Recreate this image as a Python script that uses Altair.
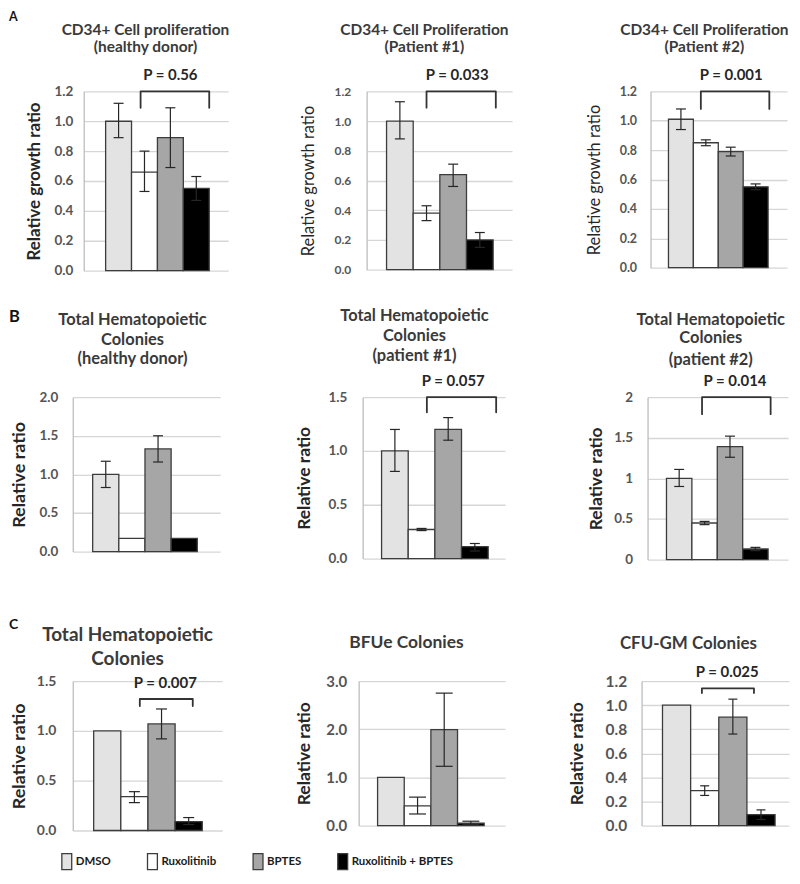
import altair as alt
import pandas as pd

FONT = "Lato"

treatments = ["DMSO", "Ruxolitinib", "BPTES", "Ruxolitinib + BPTES"]
fill_colors = ["#e3e3e3", "#ffffff", "#a6a6a6", "#000000"]

# ---- values (mean, lower / upper error bar ends) ----
a1_mean = [1.00, 0.66, 0.89, 0.55]
a1_lo = [0.89, 0.53, 0.69, 0.47]
a1_hi = [1.12, 0.80, 1.09, 0.63]

a2_mean = [1.00, 0.38, 0.64, 0.20]
a2_lo = [0.88, 0.33, 0.56, 0.15]
a2_hi = [1.13, 0.43, 0.71, 0.25]

a3_mean = [1.01, 0.85, 0.79, 0.55]
a3_lo = [0.94, 0.83, 0.76, 0.53]
a3_hi = [1.08, 0.87, 0.82, 0.57]

b1_mean = [1.00, 0.17, 1.33, 0.17]
b1_lo = [0.83, None, 1.16, None]
b1_hi = [1.17, None, 1.50, None]

b2_mean = [1.00, 0.27, 1.20, 0.11]
b2_lo = [0.81, 0.26, 1.10, 0.07]
b2_hi = [1.20, 0.28, 1.31, 0.14]

b3_mean = [1.00, 0.45, 1.39, 0.13]
b3_lo = [0.90, 0.43, 1.26, 0.11]
b3_hi = [1.11, 0.47, 1.52, 0.15]

c1_mean = [1.00, 0.34, 1.07, 0.09]
c1_lo = [None, 0.28, 0.92, 0.06]
c1_hi = [None, 0.39, 1.22, 0.13]

c2_mean = [1.00, 0.41, 1.99, 0.05]
c2_lo = [None, 0.24, 1.23, 0.02]
c2_hi = [None, 0.59, 2.75, 0.09]

c3_mean = [1.00, 0.29, 0.90, 0.09]
c3_lo = [None, 0.25, 0.76, 0.05]
c3_hi = [None, 0.33, 1.05, 0.13]

# ---- significance brackets (x in treatment-index units, y in data units) ----
bracket_panel = ["A1", "A2", "A3", "B2", "B3", "C1", "C3"]
bracket_from = [0.85, 1.0, 0.8, 1.2, 0.9, 1.2, 0.9]
bracket_to = [3.5, 3.6, 3.55, 3.8, 3.6, 3.15, 2.75]
bracket_top = [1.2, 1.2, 1.2, 1.5, 2.0, 1.32, 1.14]
bracket_bottom = [1.09, 1.09, 1.08, 1.36, 1.79, 1.25, 1.10]
p_labels = ["P = 0.56", "P = 0.033", "P = 0.001", "P = 0.057", "P = 0.014", "P = 0.007", "P = 0.025"]
p_label_x = [2.0, 2.15, 2.02, 2.19, 2.2, 2.14, 1.8]

# ---- panel texts and axes ----
panel_letters = {"A": "A", "B1": "B", "C1": "C"}
panel_titles = {
    "A1": ["CD34+ Cell proliferation", "(healthy donor)"],
    "A2": ["CD34+ Cell Proliferation", "(Patient #1)"],
    "A3": ["CD34+ Cell Proliferation", "(Patient #2)"],
    "B1": ["Total Hematopoietic", "Colonies", "(healthy donor)"],
    "B2": ["Total Hematopoietic", "Colonies", "(patient #1)"],
    "B3": ["Total Hematopoietic", "Colonies", "(patient #2)"],
    "C1": ["Total Hematopoietic", "Colonies"],
    "C2": ["BFUe Colonies"],
    "C3": ["CFU-GM Colonies"],
}
ticks_a = [0, 0.2, 0.4, 0.6, 0.8, 1.0, 1.2]
ticks_b2 = [0, 0.5, 1.0, 1.5]
ticks_b = [0, 0.5, 1.0, 1.5, 2.0]
ticks_c2 = [0, 1, 2, 3]
axis_meta = {
    "A1": dict(ymax=1.2, ticks=ticks_a, fmt=".1f", ytitle="Relative growth ratio"),
    "A2": dict(ymax=1.2, ticks=ticks_a, fmt=".1f", ytitle="Relative growth ratio"),
    "A3": dict(ymax=1.2, ticks=ticks_a, fmt=".1f", ytitle="Relative growth ratio"),
    "B1": dict(ymax=2.0, ticks=ticks_b, fmt=".1f", ytitle="Relative ratio"),
    "B2": dict(ymax=1.5, ticks=ticks_b2, fmt=".1f", ytitle="Relative ratio"),
    "B3": dict(ymax=2.0, ticks=ticks_b, fmt="~g", ytitle="Relative ratio"),
    "C1": dict(ymax=1.5, ticks=ticks_b2, fmt=".1f", ytitle="Relative ratio"),
    "C2": dict(ymax=3.0, ticks=ticks_c2, fmt=".1f", ytitle="Relative ratio"),
    "C3": dict(ymax=1.2, ticks=ticks_a, fmt=".1f", ytitle="Relative ratio"),
}
values = {
    "A1": (a1_mean, a1_lo, a1_hi), "A2": (a2_mean, a2_lo, a2_hi), "A3": (a3_mean, a3_lo, a3_hi),
    "B1": (b1_mean, b1_lo, b1_hi), "B2": (b2_mean, b2_lo, b2_hi), "B3": (b3_mean, b3_lo, b3_hi),
    "C1": (c1_mean, c1_lo, c1_hi), "C2": (c2_mean, c2_lo, c2_hi), "C3": (c3_mean, c3_lo, c3_hi),
}

# ---- layout / style (pixels, relative to each plot's top-left corner) ----
layout = {
    "A1": dict(w=145, h=180, bw=26.0, lead=22, ts=15.5, tcx=62, tys=[-62, -44.5], yts=17, ytw="bold", ytx=-49, ls=13.5, lp=11, cap=10),
    "A2": dict(w=146, h=179, bw=26.75, lead=20, ts=15.5, tcx=58, tys=[-62, -44.5], yts=16.5, ytw="normal", ytx=-58, ls=12, lp=16, cap=10),
    "A3": dict(w=137, h=177, bw=25.0, lead=18, ts=15.5, tcx=54, tys=[-62, -44.5], yts=16.5, ytw="normal", ytx=-56, ls=12.5, lp=14, cap=10),
    "B1": dict(w=148, h=155, bw=26.25, lead=20, ts=16.5, tcx=60, tys=[-77.5, -57.5, -38], yts=18, ytw="bold", ytx=-53, ls=13.5, lp=15, cap=10,
               let=dict(fs=16.5, x=-64, y=-75.5)),
    "B2": dict(w=143, h=162, bw=26.75, lead=19, ts=16.5, tcx=52, tys=[-81, -61, -41], yts=17.5, ytw="bold", ytx=-58, ls=13.5, lp=16, cap=10),
    "B3": dict(w=141, h=163, bw=25.5, lead=19, ts=16.5, tcx=63.5, tys=[-77.5, -59, -37], yts=17.5, ytw="bold", ytx=-51, ls=13.5, lp=15, cap=10),
    "C1": dict(w=150, h=150, bw=27.25, lead=21, ts=19, tcx=55, tys=[-46.5, -22.5], yts=18, ytw="bold", ytx=-53.5, ls=14, lp=17, cap=11,
               let=dict(fs=14, x=-64, y=-52)),
    "C2": dict(w=147, h=145, bw=26.75, lead=19, ts=17.5, tcx=48, tys=[-38.5], yts=17.5, ytw="bold", ytx=-54, ls=15, lp=12, cap=17),
    "C3": dict(w=148, h=145, bw=28.25, lead=21, ts=17, tcx=47, tys=[-37], yts=17.5, ytw="bold", ytx=-64, ls=15.5, lp=15, cap=9),
}
letter_a = dict(fs=12.5, x=-64, y=-71)   # row A letter, placed in a 1-px lead-in view
row_a_lead = 10                           # row A plots start 11 px right of rows B / C

INK = "#262626"
TITLE_INK = "#3a3a3a"


def text_layer(txt, x, y, size, color, align="center", baseline="middle", weight="bold"):
    return alt.Chart(pd.DataFrame({"t": [txt]})).mark_text(
        font=FONT, fontSize=size, fontWeight=weight, color=color, align=align, baseline=baseline
    ).encode(text="t:N", x=alt.value(x), y=alt.value(y))


def make_panel(key, legend=None):
    mean, lo, hi = values[key]
    meta = axis_meta[key]
    lay = layout[key]
    df = pd.DataFrame({"treatment": treatments, "mean": mean, "lo": lo, "hi": hi})
    df["idx"] = list(range(len(treatments)))

    x_min = -0.5 - lay["lead"] / lay["bw"]
    x_max = x_min + lay["w"] / lay["bw"]
    xs = alt.Scale(domain=[x_min, x_max], nice=False, zero=False)
    ys = alt.Scale(domain=[0, meta["ymax"]], nice=False, zero=True)

    yaxis = alt.Axis(
        values=meta["ticks"], format=meta["fmt"], title=meta["ytitle"],
        grid=True, gridColor="#d6d6d6", gridWidth=1.3,
        domain=True, domainColor="#bdbdbd", domainWidth=1.3, ticks=False,
        labelFont=FONT, labelFontWeight="bold", labelFontSize=lay["ls"], labelColor="#555555",
        labelPadding=lay["lp"],
        titleFont=FONT, titleFontSize=lay["yts"], titleFontWeight=lay["ytw"], titleColor=INK,
        titleX=lay["ytx"], titleBaseline="middle",
    )
    color = alt.Color(
        "treatment:N",
        scale=alt.Scale(domain=treatments, range=fill_colors),
        legend=legend,
    )
    base = alt.Chart(df)
    bars = base.transform_calculate(
        x0="datum.idx - 0.5", x1="datum.idx + 0.5", base0="0"
    ).mark_bar(stroke="#3c3c3c", strokeWidth=1.3).encode(
        x=alt.X("x0:Q", scale=xs, axis=None),
        x2="x1:Q",
        y=alt.Y("mean:Q", scale=ys, axis=yaxis),
        y2="base0:Q",
        color=color,
    )
    err = base.transform_filter("isValid(datum.lo)")
    rule = err.mark_rule(color=INK, strokeWidth=1.2).encode(
        x=alt.X("idx:Q", scale=xs, axis=None),
        y=alt.Y("lo:Q", scale=ys, axis=yaxis),
        y2="hi:Q",
    )
    cap_lo = err.mark_tick(orient="horizontal", size=lay["cap"], thickness=1.2, color=INK, opacity=1).encode(
        x=alt.X("idx:Q", scale=xs, axis=None),
        y=alt.Y("lo:Q", scale=ys, axis=yaxis),
    )
    cap_hi = err.mark_tick(orient="horizontal", size=lay["cap"], thickness=1.2, color=INK, opacity=1).encode(
        x=alt.X("idx:Q", scale=xs, axis=None),
        y=alt.Y("hi:Q", scale=ys, axis=yaxis),
    )
    layers = [bars, rule, cap_lo, cap_hi]

    if key in bracket_panel:
        i = bracket_panel.index(key)
        f, t, top, bot = bracket_from[i], bracket_to[i], bracket_top[i], bracket_bottom[i]
        bdf = pd.DataFrame({"bx": [f, f, t, t], "by": [bot, top, top, bot], "ord": [0, 1, 2, 3]})
        line = alt.Chart(bdf).mark_line(
            color="#333333", strokeWidth=1.8, strokeJoin="round", strokeCap="round"
        ).encode(
            x=alt.X("bx:Q", scale=xs, axis=None),
            y=alt.Y("by:Q", scale=ys, axis=yaxis),
            order="ord:O",
        )
        pdf = pd.DataFrame({"label": [p_labels[i]], "lx": [p_label_x[i]], "ly": [top]})
        ptxt = alt.Chart(pdf).mark_text(
            dy=-16, font=FONT, fontSize=15, fontWeight="bold", color=INK, baseline="middle"
        ).encode(
            x=alt.X("lx:Q", scale=xs, axis=None),
            y=alt.Y("ly:Q", scale=ys, axis=yaxis),
            text="label:N",
        )
        layers += [line, ptxt]

    # panel title lines
    for line_txt, ty in zip(panel_titles[key], lay["tys"]):
        layers.append(text_layer(line_txt, lay["tcx"], ty, lay["ts"], TITLE_INK))
    # panel letter
    if key in panel_letters:
        lt = lay["let"]
        layers.append(text_layer(panel_letters[key], lt["x"], lt["y"], lt["fs"], "#111111",
                                 align="left", baseline="alphabetic"))

    return alt.layer(*layers).properties(width=lay["w"], height=lay["h"])


legend = alt.Legend(
    title=None, orient="none", legendX=-15, legendY=172, direction="horizontal",
    symbolType="M-0.62,-1H0.62V1H-0.62Z", symbolSize=256,
    symbolStrokeColor="#3c3c3c", symbolStrokeWidth=1.3,
    labelFont=FONT, labelFontSize=11.5, labelFontWeight="bold", labelColor="#1a1a1a",
    labelOffset=0, columnPadding=32, padding=0,
)

lead_a = text_layer(panel_letters["A"], letter_a["x"], letter_a["y"], letter_a["fs"], "#111111",
                    align="left", baseline="alphabetic").properties(width=1, height=1)

rowA_panels = alt.HConcatChart(
    hconcat=[make_panel("A1"), make_panel("A2"), make_panel("A3")],
    spacing=139, bounds="flush",
).resolve_scale(color="independent")
rowA = alt.HConcatChart(hconcat=[lead_a, rowA_panels], spacing=row_a_lead, bounds="flush")
rowB = alt.HConcatChart(
    hconcat=[make_panel("B1"), make_panel("B2"), make_panel("B3")],
    spacing=143, bounds="flush",
).resolve_scale(color="independent")
rowC = alt.HConcatChart(
    hconcat=[make_panel("C1", legend=legend), make_panel("C2"), make_panel("C3")],
    spacing=137, bounds="flush",
).resolve_scale(color="independent")

lower = alt.VConcatChart(vconcat=[rowB, rowC], spacing=51)
chart = alt.VConcatChart(
    vconcat=[rowA, lower], spacing=30,
    padding={"left": 0, "top": 0, "right": 2, "bottom": 2},
    background="white",
).configure(font=FONT).configure_view(stroke="transparent")

chart.save("out.html", embed_options={"renderer": "svg", "actions": False})
